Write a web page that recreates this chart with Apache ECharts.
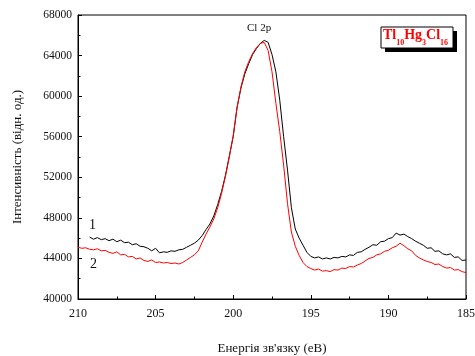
<!DOCTYPE html>
<html>
<head>
<meta charset="utf-8">
<script src="https://cdn.jsdelivr.net/npm/echarts@6/dist/echarts.min.js"></script>
<style>html,body{margin:0;padding:0;background:#fff;}#c{width:475px;height:356px;}</style>
</head>
<body>
<div id="c"></div>
<script>
// Binding energy (eV)
const energy = [210,209.75,209.5,209.25,209,208.75,208.5,208.25,208,207.75,207.5,207.25,207,206.75,206.5,206.25,206,205.75,205.5,205.25,205,204.75,204.5,204.25,204,203.75,203.5,203.25,203,202.75,202.5,202.25,202,201.75,201.5,201.25,201,200.75,200.5,200.25,200,199.75,199.5,199.25,199,198.75,198.5,198.25,198,197.75,197.5,197.25,197,196.75,196.5,196.25,196,195.75,195.5,195.25,195,194.75,194.5,194.25,194,193.75,193.5,193.25,193,192.75,192.5,192.25,192,191.75,191.5,191.25,191,190.75,190.5,190.25,190,189.75,189.5,189.25,189,188.75,188.5,188.25,188,187.75,187.5,187.25,187,186.75,186.5,186.25,186,185.75,185.5,185.25,185];
// Curve 1 (black)
const intensity1 = [null,null,null,46100,45900,46050,45850,45950,45750,45900,45650,45800,45550,45600,45350,45450,45200,45150,45000,44750,45000,44550,44650,44600,44750,44700,44850,44900,45100,45300,45500,45800,46250,46850,47400,48200,49300,50600,52200,54100,56000,58900,60800,62200,63200,64100,64700,65200,65500,65300,64100,62400,59600,56000,52700,49000,46900,46000,45300,44600,44200,44050,44150,43950,44050,43950,44100,44050,44200,44150,44350,44300,44600,44650,44900,45100,45350,45300,45650,45700,45950,46050,46500,46300,46400,46150,45950,45700,45500,45300,45000,45050,44700,44750,44450,44350,44450,44100,44150,43800,43850];
// Curve 2 (red)
const intensity2 = [45100,45000,45050,44900,44850,44950,44750,44800,44600,44500,44650,44350,44400,44150,44200,43950,44050,43800,43700,43850,43600,43650,43550,43600,43500,43550,43450,43600,43850,44100,44350,44750,45600,46400,47100,47900,49000,50400,52100,54000,56100,58900,60900,62400,63400,64200,64800,65200,65300,64500,62400,59300,56500,53200,49400,46600,45200,44300,43600,43200,43000,42850,42950,42750,42800,42700,42900,42850,43050,43000,43200,43150,43350,43500,43750,44000,44100,44350,44450,44700,44800,45050,45200,45500,45250,44950,44750,44300,44050,43850,43700,43600,43400,43450,43200,43050,43100,42850,42900,42700,42600];

const xTicks = {min: 185, max: 210, step: 5};
const yTicks = {min: 40000, max: 68000, step: 4000};

function pairs(vals){ const out=[]; for(let i=0;i<energy.length;i++){ if(vals[i]!=null) out.push([energy[i], vals[i]]); } return out; }

const FONT = "'Liberation Serif','Times New Roman',serif";

// Formula label pieces: [text, isSubscript]
const formulaParts = [['Tl',false],['10',true],['Hg',false],['3',true],['Cl',false],['16',true]];
const cv = document.createElement('canvas').getContext('2d');
const formulaGraphics = [];
let fx = 383;
formulaParts.forEach(function(p){
  const size = p[1] ? 8 : 14;
  const font = 'bold ' + size + 'px ' + FONT;
  cv.font = font;
  const w = cv.measureText(p[0]).width;
  formulaGraphics.push({type: 'text', x: fx, y: p[1] ? 39 : 28, z: 12,
    style: {text: p[0], font: font, fill: '#ff0000', textVerticalAlign: 'top', verticalAlign: 'top'}});
  fx += w;
});

const chart = echarts.init(document.getElementById('c'), null, {renderer:'canvas'});
chart.setOption({
  animation: false,
  backgroundColor: '#fff',
  grid: {left: 78, right: 9, top: 15, bottom: 57, show: true, borderColor: '#000', borderWidth: 1, containLabel: false, outerBoundsMode: 'none'},
  xAxis: {
    type: 'value', inverse: true, min: xTicks.min, max: xTicks.max, interval: xTicks.step,
    name: 'Енергія зв\'язку (еВ)', nameLocation: 'middle', nameGap: 43,
    nameTextStyle: {fontFamily: FONT, fontSize: 13, color: '#111'},
    axisLine: {show: true, onZero: false, lineStyle: {color: '#000', width: 1}},
    axisTick: {show: true, inside: true, length: 4, lineStyle: {color: '#000'}},
    minorTick: {show: true, splitNumber: 2, length: 2.5, lineStyle: {color: '#000'}},
    axisLabel: {fontFamily: FONT, fontSize: 12, color: '#111', margin: 9, formatter: function(v){ return String(v); }},
    splitLine: {show: false}
  },
  yAxis: {
    type: 'value', min: yTicks.min, max: yTicks.max, interval: yTicks.step,
    name: 'Інтенсивність (відн. од.)', nameLocation: 'middle', nameGap: 54,
    nameTextStyle: {fontFamily: FONT, fontSize: 13, color: '#111'},
    axisLine: {show: true, onZero: false, lineStyle: {color: '#000', width: 1}},
    axisTick: {show: true, inside: true, length: 4, lineStyle: {color: '#000'}},
    minorTick: {show: true, splitNumber: 2, length: 2.5, lineStyle: {color: '#000'}},
    axisLabel: {fontFamily: FONT, fontSize: 11.5, color: '#111', margin: 6, formatter: function(v){ return String(v); }},
    splitLine: {show: false}
  },
  series: [
    {type: 'line', name: '1', data: pairs(intensity1), showSymbol: false, lineStyle: {color: '#000', width: 1}, itemStyle:{color:'#000'}, z: 3},
    {type: 'line', name: '2', data: pairs(intensity2), showSymbol: false, lineStyle: {color: '#ff0000', width: 1}, itemStyle:{color:'#ff0000'}, z: 4}
  ],
  graphic: [
    {type: 'text', left: 247, top: 23, style: {text: 'Cl 2p', fontFamily: FONT, fontSize: 11, fill: '#111'}},
    {type: 'text', left: 89, top: 218, style: {text: '1', fontFamily: FONT, fontSize: 14, fill: '#111'}},
    {type: 'text', left: 90, top: 257, style: {text: '2', fontFamily: FONT, fontSize: 14, fill: '#111'}},
    {type: 'rect', shape: {x: 385, y: 31, width: 72, height: 21}, style: {fill: '#000'}, z: 10},
    {type: 'rect', shape: {x: 381, y: 27, width: 72, height: 21}, style: {fill: '#fff', stroke: '#000', lineWidth: 1}, z: 11}
  ].concat(formulaGraphics)
});
</script>
</body>
</html>
